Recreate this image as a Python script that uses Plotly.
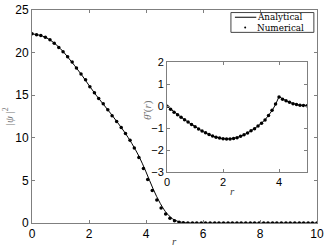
import plotly.graph_objects as go

# ---------------- data ----------------
# main panel: analytical |psi|^2
r_ana = [0, 0.25, 0.5, 0.75, 1.0, 1.25, 1.5, 1.75, 2.0, 2.25, 2.5, 2.75, 3.0, 3.25, 3.5,
         3.75, 4.0, 4.25, 4.5, 4.75, 5.0, 5.25, 5.5, 6.0, 7.0, 8.0, 9.0, 10.0]
psi_ana = [22.2, 22.05, 21.75, 21.2, 20.45, 19.5, 18.45, 17.35, 16.15, 15.0, 13.95, 12.9, 11.8,
           10.65, 9.35, 7.85, 6.0, 4.0, 2.3, 1.05, 0.35, 0.08, 0.01, 0, 0, 0, 0, 0]

# main panel: numerical |psi|^2
r_num = [0.0, 0.16, 0.31, 0.47, 0.63, 0.78, 0.94, 1.09, 1.25, 1.41, 1.56, 1.72, 1.88, 2.03,
         2.19, 2.34, 2.5, 2.66, 2.81, 2.97, 3.13, 3.28, 3.44, 3.59, 3.75, 3.91, 4.06, 4.22,
         4.38, 4.53, 4.69, 4.84, 5.0, 5.16, 5.31, 5.47, 5.63, 5.78, 5.94, 6.09, 6.25, 6.41,
         6.56, 6.72, 6.88, 7.03, 7.19, 7.34, 7.5, 7.66, 7.81, 7.97, 8.13, 8.28, 8.44, 8.59,
         8.75, 8.91, 9.06, 9.22, 9.38, 9.53, 9.69, 9.84, 10.0]
psi_num = [22.2, 22.1, 22.0, 21.8, 21.5, 21.1, 20.6, 20.1, 19.5, 18.9, 18.2, 17.5, 16.8, 16.0,
           15.3, 14.6, 14.0, 13.3, 12.6, 11.9, 11.2, 10.5, 9.7, 8.8, 7.7, 6.4, 5.1, 3.8,
           2.7, 1.75, 1.05, 0.55, 0.25, 0.1, 0.03, 0, 0, 0, 0, 0, 0, 0,
           0, 0, 0, 0, 0, 0, 0, 0, 0, 0, 0, 0, 0, 0,
           0, 0, 0, 0, 0, 0, 0, 0, 0]

# inset: analytical theta-bar'
ri_ana = [0, 0.25, 0.5, 0.75, 1.0, 1.25, 1.5, 1.75, 2.0, 2.25, 2.5, 2.75, 3.0, 3.25, 3.5,
          3.75, 3.875, 4.0, 4.25, 4.5, 4.75, 5.0]
th_ana = [0.0, -0.27, -0.5, -0.72, -0.93, -1.13, -1.29, -1.41, -1.48, -1.49, -1.43, -1.3, -1.12,
          -0.9, -0.62, -0.2, 0.08, 0.44, 0.25, 0.12, 0.05, 0.02]

# inset: numerical theta-bar'
ri_num = [0.0, 0.125, 0.25, 0.375, 0.5, 0.625, 0.75, 0.875, 1.0, 1.125, 1.25, 1.375, 1.5,
          1.625, 1.75, 1.875, 2.0, 2.125, 2.25, 2.375, 2.5, 2.625, 2.75, 2.875, 3.0, 3.125,
          3.25, 3.375, 3.5, 3.625, 3.75, 3.875, 4.0, 4.125, 4.25, 4.375, 4.5, 4.625, 4.75,
          4.875, 5.0]
th_num = [0.0, -0.14, -0.27, -0.39, -0.5, -0.61, -0.72, -0.83, -0.93, -1.03, -1.13, -1.21, -1.29,
          -1.36, -1.41, -1.45, -1.48, -1.49, -1.49, -1.47, -1.43, -1.37, -1.3, -1.22, -1.12, -1.02,
          -0.9, -0.77, -0.62, -0.42, -0.18, 0.1, 0.42, 0.32, 0.25, 0.18, 0.12, 0.08, 0.05,
          0.03, 0.02]

main_xticks = [0, 2, 4, 6, 8, 10]
main_yticks = [0, 5, 10, 15, 20, 25]
inset_xticks = [0, 2, 4]
inset_yticks = [-3, -2, -1, 0, 1, 2]
legend_names = ["Analytical", "Numerical"]

# ---------------- figure ----------------
AX = "#7f7f7f"
TICKFONT = dict(family="Liberation Sans, Arial, sans-serif", size=12, color="black")
SERIF = "DejaVu Serif, Liberation Serif, serif"

fig = go.Figure()
fig.add_trace(go.Scatter(x=r_ana, y=psi_ana, mode="lines", name=legend_names[0],
                         line=dict(color="black", width=1), line_shape="spline"))
fig.add_trace(go.Scatter(x=r_num, y=psi_num, mode="markers", name=legend_names[1],
                         marker=dict(color="black", size=3.5)))
fig.add_trace(go.Scatter(x=ri_ana, y=th_ana, mode="lines",
                         line=dict(color="black", width=1), xaxis="x2", yaxis="y2"))
fig.add_trace(go.Scatter(x=ri_num, y=th_num, mode="markers",
                         marker=dict(color="black", size=3.5), xaxis="x2", yaxis="y2"))

common = dict(showline=True, linecolor=AX, linewidth=1, mirror="ticks", ticks="inside",
              ticklen=3, tickcolor=AX, showgrid=False, zeroline=False, tickfont=TICKFONT,
              automargin=False)

# legend box (drawn by hand, compact like the original)
LX0, LX1, LY0, LY1 = 0.698, 0.989, 0.895, 0.988
legend_shapes = [
    dict(type="rect", xref="paper", yref="paper", x0=LX0, x1=LX1, y0=LY0, y1=LY1,
         fillcolor="white", line=dict(color="#444", width=1)),
    dict(type="line", xref="paper", yref="paper", x0=0.712, x1=0.787, y0=0.966, y1=0.966,
         line=dict(color="black", width=1)),
    dict(type="circle", xref="paper", yref="paper", x0=0.7445, x1=0.7515, y0=0.913, y1=0.922,
         fillcolor="black", line=dict(width=0)),
]

fig.update_layout(
    template="none",
    width=327, height=246,
    margin=dict(l=32, r=10, t=10, b=23),
    paper_bgcolor="white", plot_bgcolor="white",
    showlegend=False,
    hovermode=False,
    xaxis=dict(range=[0, 10], tickvals=main_xticks, domain=[0, 1], **common),
    yaxis=dict(range=[0, 25], tickvals=main_yticks, domain=[0, 1], **common),
    xaxis2=dict(range=[0, 5], tickvals=inset_xticks, domain=[0.474, 0.965], anchor="y2",
                **{**common, "tickfont": dict(TICKFONT, size=11)}),
    yaxis2=dict(range=[-3, 2], tickvals=inset_yticks, domain=[0.239, 0.754], anchor="x2",
                **{**common, "tickfont": dict(TICKFONT, size=11)}),
    shapes=[dict(type="rect", xref="paper", yref="paper", x0=0.474, x1=0.965, y0=0.239,
                 y1=0.754, fillcolor="white", line=dict(width=0), layer="below")]
           + legend_shapes,
    annotations=[
        dict(text="<i>r</i>", xref="paper", yref="paper", x=0.5, y=-0.085, showarrow=False,
             font=dict(family="Liberation Serif, serif", size=11, color="#444"),
             yanchor="middle", borderpad=0),
        dict(text="|<i>ψ</i> |<sup>2</sup>", xref="paper", yref="paper", x=-0.085, y=0.5,
             textangle=-90, showarrow=False, xanchor="center",
             font=dict(family="Liberation Serif, serif", size=11, color="#777")),
        dict(text="<i>r</i>", xref="paper", yref="paper", x=0.72, y=0.15, showarrow=False,
             font=dict(family="Liberation Serif, serif", size=11, color="#444"),
             yanchor="middle"),
        dict(text="<i>θ̄′</i>(<i>r</i>)", xref="paper", yref="paper", x=0.403, y=0.53,
             textangle=-90, showarrow=False,
             font=dict(family="Liberation Serif, serif", size=11, color="#777")),
        dict(text=legend_names[0], xref="paper", yref="paper", x=0.787, y=0.966,
             xanchor="left", yanchor="middle", showarrow=False, borderpad=0,
             font=dict(family=SERIF, size=8.8, color="black")),
        dict(text=legend_names[1], xref="paper", yref="paper", x=0.787, y=0.917,
             xanchor="left", yanchor="middle", showarrow=False, borderpad=0,
             font=dict(family=SERIF, size=8.8, color="black")),
    ],
)

fig.write_html("out.html", config={"displayModeBar": False, "staticPlot": True},
               post_script="document.body.style.margin='0';")
